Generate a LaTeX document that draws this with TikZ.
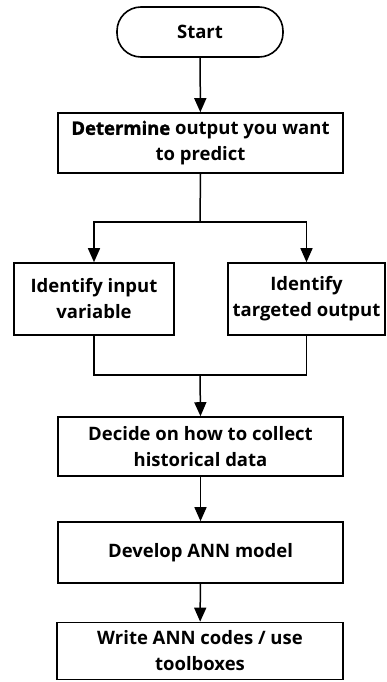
\documentclass[tikz,border=0pt]{standalone}
\usepackage{fontspec}
\setmainfont{Open Sans}
\newfontfamily\heavyfont[FakeBold=1.5]{Open Sans}
\usetikzlibrary{arrows.meta}
\tikzset{
  flowbox/.style={draw=black, line width=1.6pt, fill=white, align=center,
    inner sep=0pt, font=\fontsize{18.5}{26}\selectfont\bfseries},
  terminal/.style={flowbox, rounded corners=24pt},
  link/.style={draw=black, line width=1.5pt},
  arr/.style={link, -{Triangle[width=12pt,length=14pt]}}
}
\begin{document}
\begin{tikzpicture}[x=1pt,y=-1pt]
  \useasboundingbox (0,0) rectangle (386,682);

  % process steps
  \node[terminal, minimum width=166pt, minimum height=50pt] (start) at (200,32) {Start};
  \node[flowbox, minimum width=285pt, minimum height=60pt] (det) at (200.5,143)
    {{\heavyfont\bfseries Determine} output you want\\to predict};
  \node[flowbox, minimum width=160pt, minimum height=72pt] (inp) at (94,299)
    {Identify input\\variable};
  \node[flowbox, minimum width=157pt, minimum height=72pt] (tgt) at (306.5,299)
    {Identify\\targeted output};
  \node[flowbox, minimum width=285pt, minimum height=59pt] (dec) at (200.5,446.5)
    {Decide on how to collect\\historical data};
  \node[flowbox, minimum width=285pt, minimum height=61pt] (dev) at (200.5,552.5)
    {Develop ANN model};
  \node[flowbox, minimum width=286pt, minimum height=57pt] (wri) at (200,651)
    {Write ANN codes / use\\toolboxes};

  % branch and merge points
  \coordinate (split) at (200,222);
  \coordinate (merge) at (200,375);

  % connectors
  \draw[arr] (start) -- (det);
  \draw[link] (det.south) -- (split);
  \draw[arr] (split) -| (inp.north);
  \draw[arr] (split) -| (tgt.north);
  \draw[link] (inp.south) |- (merge);
  \draw[link] (tgt.south) |- (merge);
  \draw[arr] (merge) -- (dec.north);
  \draw[arr] (dec) -- (dev);
  \draw[arr] (dev) -- (wri);
\end{tikzpicture}
\end{document}
